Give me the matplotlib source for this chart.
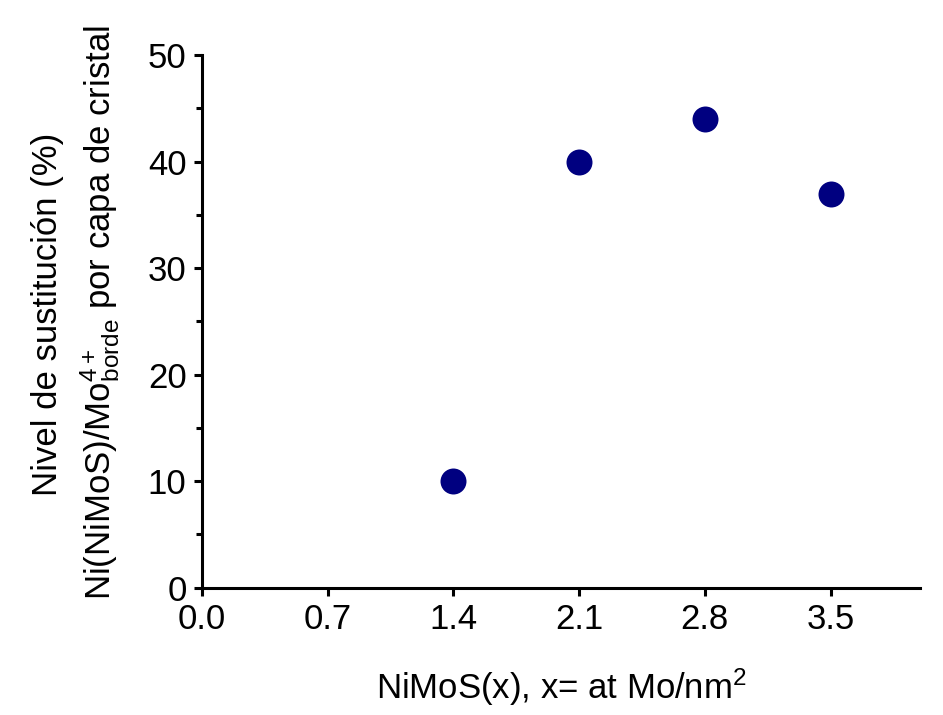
import matplotlib
matplotlib.use("Agg")
import matplotlib.pyplot as plt
from matplotlib.ticker import MultipleLocator

plt.rcParams['font.family'] = ['Liberation Sans', 'DejaVu Sans']
plt.rcParams['mathtext.fontset'] = 'custom'
plt.rcParams['mathtext.rm'] = 'Liberation Sans'
plt.rcParams['mathtext.it'] = 'Liberation Sans'

x_vals = [1.4, 2.1, 2.8, 3.5]
y_vals = [10, 40, 44, 37]
x_ticks = [0.0, 0.7, 1.4, 2.1, 2.8, 3.5]
y_ticks = [0, 10, 20, 30, 40, 50]

fig = plt.figure(figsize=(9.43, 7.15), dpi=100)
ax = fig.add_axes([0.214, 0.178, 0.762, 0.745])
ax.scatter(x_vals, y_vals, s=350, color='#000080', zorder=3, clip_on=False, linewidths=0)
ax.set_xlim(0, 4.0)
ax.set_ylim(0, 50)
ax.set_xticks(x_ticks)
ax.set_xticklabels([f"{v:.1f}" for v in x_ticks])
ax.set_yticks(y_ticks)
ax.yaxis.set_minor_locator(MultipleLocator(5))
for s in ['top', 'right']:
    ax.spines[s].set_visible(False)
for s in ['left', 'bottom']:
    ax.spines[s].set_linewidth(2.2)
ax.tick_params(axis='both', which='major', direction='out', length=6, width=2.2, labelsize=25, pad=5)
ax.tick_params(axis='y', which='minor', direction='out', length=4, width=2.2)
ax.set_xlabel(r"NiMoS(x), x= at Mo/nm$^2$", fontsize=25, labelpad=22)
fig.text(0.050, 0.560, "Nivel de sustitución (%)", rotation=90, fontsize=25, ha='center', va='center')
fig.text(0.106, 0.563, r"Ni(NiMoS)/Mo$_{\rm borde}^{4+}$ por capa de cristal", rotation=90, fontsize=25, ha='center', va='center')
fig.savefig("out.png", dpi=100)
